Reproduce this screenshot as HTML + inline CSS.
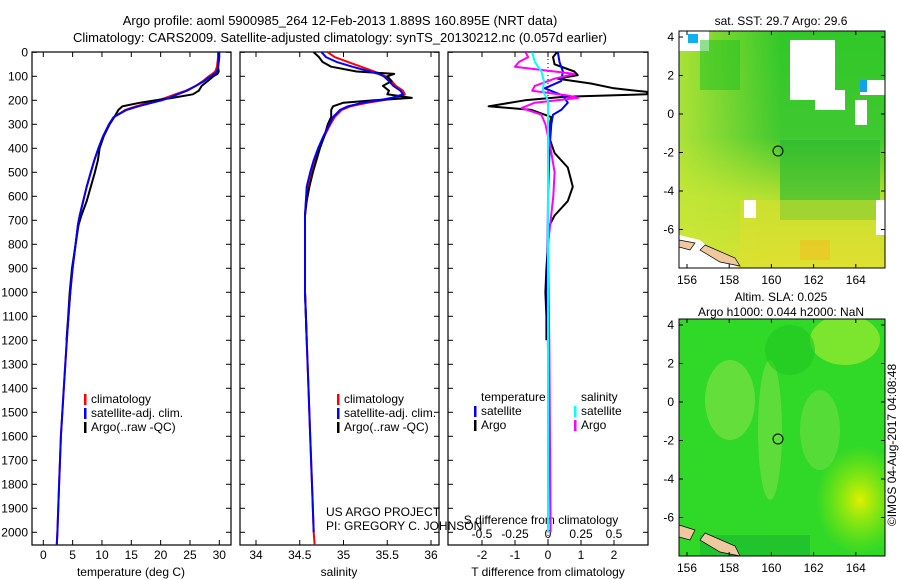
<!DOCTYPE html>
<html><head><meta charset="utf-8"><style>
body{margin:0;background:#fff;}
svg{display:block;font-family:"Liberation Sans",sans-serif;}
text{font-size:12px;fill:#000;}
</style></head><body>
<svg id="chart" width="900" height="580" viewBox="0 0 900 580" xmlns="http://www.w3.org/2000/svg">
<defs>
<linearGradient id="sstg" x1="0" y1="0" x2="0" y2="1">
<stop offset="0" stop-color="#30c828"/><stop offset="0.45" stop-color="#40c830"/><stop offset="0.7" stop-color="#b0e030"/><stop offset="1" stop-color="#e0e030"/>
</linearGradient>
<linearGradient id="sstl" x1="0" y1="0" x2="1" y2="0">
<stop offset="0" stop-color="#c8e838" stop-opacity="0.8"/><stop offset="0.5" stop-color="#c8e838" stop-opacity="0"/>
</linearGradient>
<radialGradient id="slay" cx="0.5" cy="0.5" r="0.5"><stop offset="0" stop-color="#e0f000"/><stop offset="1" stop-color="#a0f000" stop-opacity="0"/></radialGradient>
<clipPath id="m1c"><rect x="679" y="31" width="206" height="237"/></clipPath>
<clipPath id="m2c"><rect x="679" y="319" width="206" height="237"/></clipPath>
<clipPath id="p3c"><rect x="448" y="45" width="200" height="500"/></clipPath>
</defs>
<text x="340" y="25" text-anchor="middle" style="font-size:13px">Argo profile: aoml 5900985_264 12-Feb-2013 1.889S 160.895E (NRT data)</text>
<text x="340" y="42" text-anchor="middle" style="font-size:13px">Climatology: CARS2009. Satellite-adjusted climatology: synTS_20130212.nc (0.057d earlier)</text>
<g id="plots"></g>

<!-- map 1 -->
<g clip-path="url(#m1c)">
<rect x="679" y="31" width="206" height="237" fill="url(#sstg)"/>
<rect x="679" y="31" width="206" height="237" fill="url(#sstl)"/>
<rect x="780" y="140" width="100" height="80" fill="#28b830" opacity="0.6"/>
<rect x="740" y="200" width="140" height="70" fill="#e0e030" opacity="0.5"/>
<rect x="800" y="240" width="30" height="20" fill="#f0c020" opacity="0.6"/>
<rect x="679" y="31" width="30" height="20" fill="#fff"/><rect x="688" y="34" width="10" height="9" fill="#10b0f0"/>
<rect x="790" y="40" width="45" height="60" fill="#fff"/><rect x="815" y="90" width="30" height="20" fill="#fff"/>
<rect x="860" y="80" width="25" height="15" fill="#fff"/><rect x="860" y="80" width="7" height="12" fill="#10a0f0"/>
<rect x="855" y="100" width="12" height="25" fill="#fff"/><rect x="876" y="200" width="9" height="35" fill="#fff"/>
<rect x="744" y="200" width="12" height="18" fill="#fff"/>
<rect x="700" y="40" width="40" height="50" fill="#20c020" opacity="0.5"/>
<polygon points="679,235 700,240 720,258 740,268 679,268" fill="#fff"/>
<polygon points="679,240 695,243 690,250 679,247" fill="#f0c8a0" stroke="#000" stroke-width="0.7"/>
<polygon points="705,245 735,258 740,266 720,262 700,250" fill="#f0c8a0" stroke="#000" stroke-width="0.7"/>
</g>
<rect x="679" y="31" width="206" height="237" fill="none" stroke="#000"/>
<circle cx="778" cy="151" r="5" fill="none" stroke="#000"/>
<text x="781" y="25" text-anchor="middle">sat. SST: 29.7 Argo: 29.6</text>

<!-- map 2 -->
<g clip-path="url(#m2c)">
<rect x="679" y="319" width="206" height="237" fill="#30d828"/>
<ellipse cx="730" cy="400" rx="25" ry="40" fill="#70e040" opacity="0.8"/>
<ellipse cx="845" cy="340" rx="35" ry="25" fill="#90e830" opacity="0.8"/>
<ellipse cx="860" cy="500" rx="45" ry="55" fill="url(#slay)"/>
<ellipse cx="770" cy="430" rx="12" ry="70" fill="#70e040" opacity="0.7"/>
<ellipse cx="820" cy="430" rx="20" ry="40" fill="#70e040" opacity="0.6"/>
<ellipse cx="790" cy="350" rx="25" ry="25" fill="#20c820" opacity="0.6"/>
<rect x="700" y="535" width="110" height="25" fill="#18b830" opacity="0.6"/>
<polygon points="679,525 695,530 690,540 679,537" fill="#f0c8a0" stroke="#000" stroke-width="0.7"/>
<polygon points="705,533 735,546 740,556 720,552 700,540" fill="#f0c8a0" stroke="#000" stroke-width="0.7"/>
</g>
<rect x="679" y="319" width="206" height="237" fill="none" stroke="#000"/>
<circle cx="778" cy="439" r="5" fill="none" stroke="#000"/>
<text x="781" y="301" text-anchor="middle">Altim. SLA: 0.025</text>
<text x="781" y="316" text-anchor="middle">Argo h1000: 0.044 h2000: NaN</text>
<text transform="translate(896,445) rotate(-90)" text-anchor="middle">©IMOS 04-Aug-2017 04:08:48</text>
<text x="326" y="516">US ARGO PROJECT</text>
<text x="326" y="530">PI: GREGORY C. JOHNSON</text>
</svg>
<script>
const depths = [0,20,40,60,80,90,100,120,140,160,175,190,200,210,225,240,270,300,350,400,450,500,560,620,680,720,800,900,1000,1100,1200,1400,1600,1800,2000,2050];
const tempClim = [29.8,29.8,29.7,29.6,29.3,28.8,28.2,27.2,26.0,24.3,22.5,20.8,19.5,18.0,15.8,14.0,12.0,11.2,10.2,9.4,8.7,8.1,7.4,6.8,6.2,5.9,5.5,5.0,4.6,4.3,4.0,3.5,3.0,2.7,2.4,2.3];
const tempSat = [30.0,30.0,29.9,29.8,29.6,29.2,28.5,27.4,26.0,24.5,22.9,21.4,20.2,18.6,16.2,14.2,12.0,11.2,10.2,9.4,8.7,8.1,7.4,6.8,6.2,5.9,5.5,5.0,4.6,4.3,4.0,3.5,3.0,2.7,2.4,2.3];
const tempArgo = [29.9,29.9,29.9,29.8,29.9,29.7,29.0,28.0,27.0,26.5,25.5,22.0,19.2,16.5,13.5,12.8,12.1,11.3,10.3,9.6,9.3,8.8,8.1,7.4,6.5,6.0,5.5,4.9,4.5,4.25,3.95];
const salClim = [34.82,34.9,35.05,35.2,35.35,35.42,35.48,35.55,35.6,35.68,35.7,35.6,35.45,35.28,35.08,34.98,34.9,34.85,34.78,34.72,34.67,34.63,34.59,34.57,34.56,34.56,34.56,34.56,34.56,34.57,34.58,34.6,34.62,34.64,34.66,34.67];
const salSat = [34.75,34.8,34.92,35.1,35.3,35.4,35.46,35.52,35.57,35.65,35.68,35.55,35.4,35.22,35.05,34.96,34.88,34.84,34.77,34.71,34.66,34.62,34.58,34.57,34.56,34.56,34.56,34.56,34.56,34.57,34.58,34.6,34.62,34.64,34.66,34.67];
const salArgo = [34.66,34.72,34.76,34.86,35.15,35.58,35.5,35.55,35.45,35.52,35.5,35.78,35.35,35.0,34.88,34.86,34.86,34.82,34.78,34.73,34.69,34.65,34.61,34.58,34.56,34.56,34.56,34.56,34.56,34.57,34.58];
const diffDepths = [0,20,50,80,95,110,130,150,165,175,185,200,225,240,270,300,360,420,480,560,620,680,720,800,900,1000,1100,1200];
const tDiffArgo = [0.27,0.15,0.2,0.8,0.9,0.3,1.3,2.0,3.0,3.0,0.5,-0.7,-1.8,-0.5,0.1,0.05,0.05,0.2,0.6,0.75,0.6,0.2,0.05,0.0,-0.05,-0.08,-0.05,-0.05];
const tDiffSatDepths = [0,40,80,120,150,180,210,240,260,300,400,600,1000,1500,2000];
const tDiffSat = [0.3,0.35,0.45,0.4,-0.1,0.45,0.6,0.4,0.15,0.1,0.05,0.0,-0.02,0.02,0.0];
const sDiffDepths = [0,20,40,60,80,90,110,140,160,180,190,210,232,260,300,400,500,600,800,1200,2000];
const sDiffArgo = [-0.17,-0.15,-0.22,-0.25,0.05,0.2,0.05,-0.1,-0.12,0.15,0.23,-0.1,-0.2,-0.05,-0.02,0.02,0.05,0.04,0.0,0.01,0.02];
const sDiffSatDepths = [0,40,80,120,160,200,250,400,1000,2000];
const sDiffSat = [-0.12,-0.1,-0.05,-0.03,-0.04,0.0,0.0,0.0,0.0,0.0];
const depthTicks = [0,100,200,300,400,500,600,700,800,900,1000,1100,1200,1300,1400,1500,1600,1700,1800,1900,2000];
const tempTicks = [0,5,10,15,20,25,30];
const salTicks = [34,34.5,35,35.5,36];
const tDiffTicks = [-2,-1,0,1,2];
const sDiffTicks = [-0.5,-0.25,0,0.25,0.5];

const NS='http://www.w3.org/2000/svg';
const g=document.getElementById('plots');
const yD=d=>52.3+d*0.24;
const xT=v=>43.3+v*5.867;
const xS=v=>256+(v-34)*87.5;
const xTD=v=>548+v*33;
const xSD=v=>548+v*132;
function mk(tag,attrs,parent){const e=document.createElementNS(NS,tag);for(const k in attrs)e.setAttribute(k,attrs[k]);(parent||g).appendChild(e);return e;}
function line(xs,ds,xf,color,w,parent){
  const pts=ds.slice(0,xs.length).map((d,i)=>xf(xs[i]).toFixed(1)+','+yD(d).toFixed(1)).join(' ');
  return mk('polyline',{points:pts,fill:'none',stroke:color,'stroke-width':w,'stroke-linejoin':'round'},parent);
}
const panels=[{x:32,w:199,n:'temperature'},{x:240,w:199,n:'salinity'},{x:448,w:200,n:'difference'}];
panels.forEach(p=>{
  const r=mk('rect',{x:p.x,y:52,width:p.w,height:493,fill:'none',stroke:'#000','stroke-width':1.2});
  
  
  depthTicks.forEach(d=>{
    mk('line',{x1:p.x,x2:p.x+5,y1:yD(d),y2:yD(d),stroke:'#000'});
    mk('line',{x1:p.x+p.w,x2:p.x+p.w-5,y1:yD(d),y2:yD(d),stroke:'#000'});
  });
});
depthTicks.forEach(d=>{
  const t=mk('text',{x:28,y:yD(d)+4,'text-anchor':'end'});t.textContent=d;
  
  
});
function xticks(ticks,xf,y0,labY,top){
  ticks.forEach(v=>{
    mk('line',{x1:xf(v),x2:xf(v),y1:545,y2:540,stroke:'#000'});
    if(top) mk('line',{x1:xf(v),x2:xf(v),y1:52,y2:57,stroke:'#000'});
    const t=mk('text',{x:xf(v),y:labY,'text-anchor':'middle'});t.textContent=v;
    
    
  });
}
xticks(tempTicks,xT,545,559,true);
xticks(salTicks,xS,545,559,true);
xticks(tDiffTicks,xTD,545,559,true);
sDiffTicks.forEach(v=>{
  const t=mk('text',{x:xSD(v),y:538,'text-anchor':'middle'});t.textContent=v;
  
  
});
[[131,'temperature (deg C)','temp-axis-title'],[339,'salinity','salinity-axis-title'],[548,'T difference from climatology','t-diff-axis-title']].forEach(a=>{
  const t=mk('text',{x:a[0],y:576,'text-anchor':'middle'});t.textContent=a[1];
  
  
});
const st=mk('text',{x:541,y:524,'text-anchor':'middle'});st.textContent='S difference from climatology';


// temp panel
let e;
e=line(tempClim,depths,xT,'#f00',2);
e=line(tempArgo,depths,xT,'#000',2);
e=line(tempSat,depths,xT,'#00f',2);
e=line(salClim,depths,xS,'#f00',2);
e=line(salArgo,depths,xS,'#000',2);
e=line(salSat,depths.slice(0,-1),xS,'#00f',2);
// diff panel
const cg=mk('g',{'clip-path':'url(#p3c)'});
mk('line',{x1:548,x2:548,y1:55,y2:540,stroke:'#000','stroke-dasharray':'1,3'},cg);
e=line(tDiffArgo,diffDepths,xTD,'#000',2,cg);
e=line(tDiffSat,tDiffSatDepths,xTD,'#00f',2,cg);
e=line(sDiffArgo,sDiffDepths,xSD,'#f0f',2,cg);
e=line(sDiffSat,sDiffSatDepths,xSD,'#0ff',2,cg);
// legends
function leg(x,y,color,label,name){
  mk('rect',{x:x,y:y-9,width:2.5,height:11,fill:color});
  const t=mk('text',{x:x+7,y:y});t.textContent=label;
  
  
}
[[84,'temp'],[337,'sal']].forEach(([x,p])=>{
  leg(x,403,'#f00','climatology',p+'-legend-climatology');
  leg(x,417,'#00f','satellite-adj. clim.',p+'-legend-satellite');
  leg(x,431,'#000','Argo(..raw -QC)',p+'-legend-argo');
});
const lt=mk('text',{x:481,y:401});lt.textContent='temperature';


const ls=mk('text',{x:581,y:401});ls.textContent='salinity';


leg(474,415,'#00f','satellite','diff-legend-t-satellite');
leg(474,429,'#000','Argo','diff-legend-t-argo');
leg(574,415,'#0ff','satellite','diff-legend-s-satellite');
leg(574,429,'#f0f','Argo','diff-legend-s-argo');
// map axes
const lonTicks=[156,158,160,162,164];
const latTicks=[4,2,0,-2,-4,-6];
const svg=document.getElementById('chart');
[[31,268],[319,556]].forEach(([top,bot],k)=>{
  const xL=v=>687+(v-156)*21.1;
  const yL=v=>top+6+(4-v)*19.25;
  lonTicks.forEach(v=>{
    mk('line',{x1:xL(v),x2:xL(v),y1:bot,y2:bot-4,stroke:'#000'},svg);
    mk('line',{x1:xL(v),x2:xL(v),y1:top,y2:top+4,stroke:'#000'},svg);
    const t=mk('text',{x:xL(v),y:bot+16,'text-anchor':'middle'},svg);t.textContent=v;
    
    
  });
  latTicks.forEach(v=>{
    mk('line',{x1:679,x2:683,y1:yL(v),y2:yL(v),stroke:'#000'},svg);
    mk('line',{x1:885,x2:881,y1:yL(v),y2:yL(v),stroke:'#000'},svg);
    const t=mk('text',{x:674,y:yL(v)+4,'text-anchor':'end'},svg);t.textContent=v;
    
    
  });
});
</script>
</body></html>
